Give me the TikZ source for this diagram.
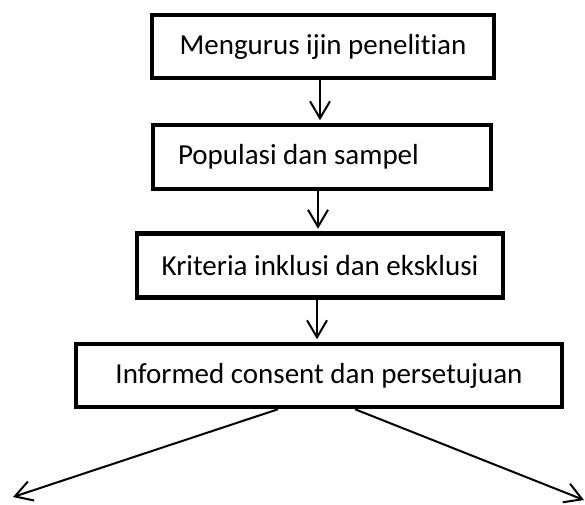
\documentclass[tikz,border=0pt]{standalone}
\usepackage{fontspec}
\setmainfont{Carlito}[Ligatures=NoCommon,RawFeature={-liga;-clig}]
\usetikzlibrary{arrows.meta}
\begin{document}
\begin{tikzpicture}[x=1pt,y=-1pt,
  box/.style={draw=black, line width=4.5pt, fill=white, inner sep=0pt,
    font=\fontsize{29}{34}\selectfont, align=center},
  arr/.style={line width=2pt, -{Straight Barb[length=17pt,width=20pt,line width=2pt]}, shorten >=2.5pt}]
\useasboundingbox (0,0) rectangle (585,504);
\node[box, minimum width=342pt, minimum height=63pt] (b1) at (323,46.5) {Mengurus ijin penelit\kern0pt ian};
\node[box, minimum width=338pt, minimum height=64pt] (b2) at (322,157) {\raisebox{-5pt}{\makebox[288pt][l]{Populasi dan sampel}}};
\node[box, minimum width=366pt, minimum height=64pt] (b3) at (320,265.5) {Kriteria inklusi dan eksklusi};
\node[box, minimum width=486pt, minimum height=63pt] (b4) at (319,375.5) {Informed consent dan persetujuan};
\coordinate (L) at (13,497);
\coordinate (R) at (584,500);
\draw[arr] ([xshift=-3pt]b1.south) -- ([xshift=-2pt]b2.north);
\draw[arr] ([xshift=-4pt]b2.south) -- ([xshift=-2pt]b3.north);
\draw[arr] ([xshift=-3pt]b3.south) -- ([xshift=-2pt]b4.north);
\draw[arr, shorten >=0pt] ([xshift=-41pt]b4.south) -- (L);
\draw[arr, shorten >=0pt] ([xshift=36pt]b4.south) -- (R);
\end{tikzpicture}
\end{document}
